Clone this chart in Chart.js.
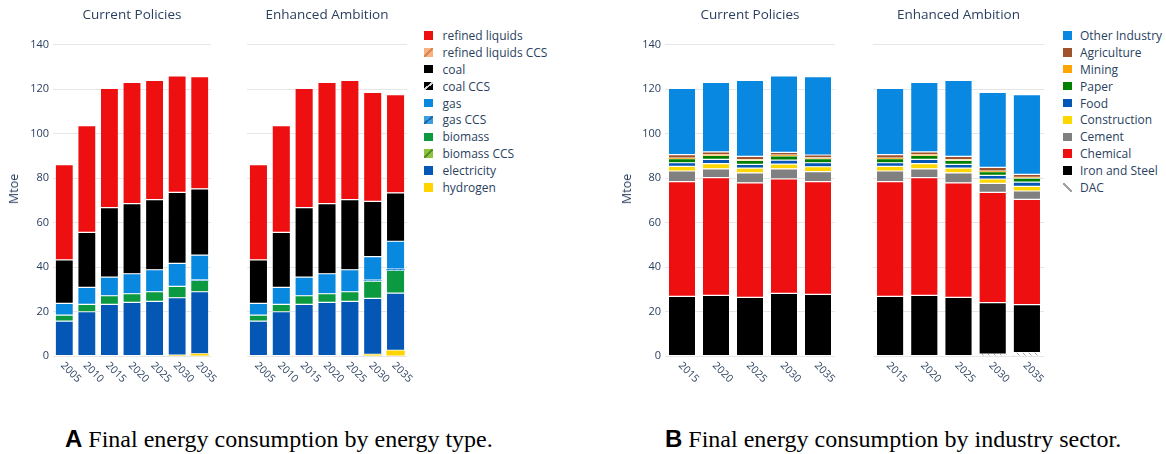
<!DOCTYPE html>
<html lang="en">
<head>
<meta charset="utf-8">
<title>Final energy consumption</title>
<script src="https://cdn.jsdelivr.net/npm/chart.js@4.4.1/dist/chart.umd.min.js"></script>
<style>
  html, body { margin:0; padding:0; background:#fff; }
  body { position:relative; width:1166px; height:454px; overflow:hidden;
         font-family:"Open Sans", sans-serif; color:#2a3f5f; }
  canvas.panel { position:absolute; top:0; }
  .title { position:absolute; top:5px; font-size:13.5px; line-height:18px;
           transform:translateX(-50%); white-space:nowrap; }
  .ytitle { position:absolute; font-size:12.5px; line-height:16px; white-space:nowrap;
            transform:translate(-50%,-50%) rotate(-90deg); }
  .legend { position:absolute; top:27px; font-size:12px; }
  .legend .row { height:16.9px; display:flex; align-items:center; white-space:nowrap; }
  .legend .sw { width:8.5px; height:8.5px; flex:none; }
  .caption { position:absolute; top:425px; font-family:"Liberation Serif", serif;
             font-size:24px; color:#000; white-space:nowrap; }
  .caption b { font-family:"Liberation Sans", sans-serif; font-weight:bold; }
</style>
</head>
<body>

<canvas class="panel" id="typeCP" width="220" height="400" style="left:0px"></canvas>
<canvas class="panel" id="typeEA" width="200" height="400" style="left:220px"></canvas>
<canvas class="panel" id="sectorCP" width="250" height="400" style="left:600px"></canvas>
<canvas class="panel" id="sectorEA" width="210" height="400" style="left:850px"></canvas>

<div class="title" style="left:132px">Current Policies</div>
<div class="title" style="left:327px">Enhanced Ambition</div>
<div class="title" style="left:750px">Current Policies</div>
<div class="title" style="left:958.5px">Enhanced Ambition</div>

<div class="ytitle" style="left:13.5px; top:189px">Mtoe</div>
<div class="ytitle" style="left:627px; top:189px">Mtoe</div>

<div class="legend" id="legendType" style="left:424px"></div>
<div class="legend" id="legendSector" style="left:1063px"></div>

<div class="caption" style="left:65px"><b>A</b> Final energy consumption by energy type.</div>
<div class="caption" style="left:665px"><b>B</b> Final energy consumption by industry sector.</div>

<script>
// ---- categories ----
const years = ['2005', '2010', '2015', '2020', '2025', '2030', '2035'];
const sectorYears = ['2015', '2020', '2025', '2030', '2035'];

// ---- final energy by energy type, Current Policies (Mtoe) ----
const cpHydrogen      = [0, 0, 0, 0, 0, 0.4, 1.0];
const cpElectricity   = [15.7, 19.9, 23.2, 24.1, 24.6, 25.8, 27.9];
const cpBiomassCCS    = [0, 0, 0, 0, 0, 0, 0];
const cpBiomass       = [2.7, 3.3, 3.9, 3.9, 4.3, 5.1, 5.1];
const cpGasCCS        = [0, 0, 0, 0, 0, 0, 0.3];
const cpGas           = [5.3, 7.7, 8.4, 9.0, 9.9, 10.4, 11.1];
const cpCoalCCS       = [0, 0, 0, 0, 0, 0, 0];
const cpCoal          = [19.5, 24.7, 31.2, 31.5, 31.5, 31.9, 29.8];
const cpRefinedCCS    = [0, 0, 0, 0, 0, 0, 0];
const cpRefined       = [42.8, 48.0, 53.7, 54.5, 53.6, 52.4, 50.4];

// ---- final energy by energy type, Enhanced Ambition (Mtoe) ----
const eaHydrogen      = [0, 0, 0, 0, 0, 0.7, 2.5];
const eaElectricity   = [15.7, 19.9, 23.2, 24.1, 24.6, 25.2, 25.8];
const eaBiomassCCS    = [0, 0, 0, 0, 0, 0, 0];
const eaBiomass       = [2.7, 3.3, 3.9, 3.9, 4.3, 7.8, 10.2];
const eaGasCCS        = [0, 0, 0, 0, 0, 0.4, 0.6];
const eaGas           = [5.3, 7.7, 8.4, 9.0, 9.9, 10.6, 12.5];
const eaCoalCCS       = [0, 0, 0, 0, 0, 0, 0];
const eaCoal          = [19.5, 24.7, 31.2, 31.5, 31.5, 24.8, 21.8];
const eaRefinedCCS    = [0, 0, 0, 0, 0, 0, 0];
const eaRefined       = [42.8, 48.0, 53.7, 54.5, 53.6, 49.0, 44.1];

// ---- final energy by industry sector, Current Policies (Mtoe) ----
const cpDAC           = [0, 0, 0, 0, 0];
const cpIronSteel     = [26.8, 27.3, 26.4, 28.2, 27.7];
const cpChemical      = [51.6, 52.9, 51.5, 51.5, 50.7];
const cpCement        = [4.8, 4.0, 4.5, 4.5, 4.5];
const cpConstruction  = [2.1, 2.3, 2.1, 2.1, 2.2];
const cpFood          = [1.6, 1.9, 1.7, 1.8, 1.8];
const cpPaper         = [1.8, 1.8, 1.8, 1.9, 1.9];
const cpMining        = [0.3, 0.3, 0.3, 0.3, 0.3];
const cpAgriculture   = [1.6, 1.3, 1.5, 1.3, 1.3];
const cpOtherIndustry = [29.7, 31.2, 34.1, 34.4, 35.2];

// ---- final energy by industry sector, Enhanced Ambition (Mtoe) ----
const eaDAC           = [0, 0, 0, 0.9, 1.5];
const eaIronSteel     = [26.8, 27.3, 26.4, 23.1, 21.6];
const eaChemical      = [51.6, 52.9, 51.5, 49.6, 47.3];
const eaCement        = [4.8, 4.0, 4.5, 4.0, 3.8];
const eaConstruction  = [2.1, 2.3, 2.1, 2.0, 2.1];
const eaFood          = [1.6, 1.9, 1.7, 1.6, 1.9];
const eaPaper         = [1.8, 1.8, 1.8, 1.7, 1.8];
const eaMining        = [0.3, 0.3, 0.3, 0.3, 0.3];
const eaAgriculture   = [1.6, 1.3, 1.5, 1.6, 1.4];
const eaOtherIndustry = [29.7, 31.2, 34.1, 33.7, 35.8];

// ---- axis ----
const yMax = 140;
const yStep = 20;

// ---- series styles (bottom of stack first) ----
const typeSeries = [
  { label: 'hydrogen',             color: '#ffd400', thin: true },
  { label: 'electricity',          color: '#0457b5' },
  { label: 'biomass CCS',          color: '#8cc63f', hatch: { bg: '#8cc63f', line: '#5b8c27', dir: 1 } },
  { label: 'biomass',              color: '#0b9a40' },
  { label: 'gas CCS',              color: '#3c9ee4', hatch: { bg: '#3c9ee4', line: '#1c6aa8', dir: 1 }, thin: true },
  { label: 'gas',                  color: '#0888de' },
  { label: 'coal CCS',             color: '#000000', hatch: { bg: '#000000', line: '#d0d0d0', dir: 1 } },
  { label: 'coal',                 color: '#000000' },
  { label: 'refined liquids CCS',  color: '#f7b283', hatch: { bg: '#f7b283', line: '#d98550', dir: 1 } },
  { label: 'refined liquids',      color: '#ee1010' }
];
const sectorSeries = [
  { label: 'DAC',            color: '#ffffff', hatch: { bg: '#ffffff', line: '#a0a0a0', dir: -1 }, thin: true },
  { label: 'Iron and Steel', color: '#000000' },
  { label: 'Chemical',       color: '#ee1010' },
  { label: 'Cement',         color: '#808080' },
  { label: 'Construction',   color: '#ffd700' },
  { label: 'Food',           color: '#0457b5' },
  { label: 'Paper',          color: '#008000' },
  { label: 'Mining',         color: '#ffa500', thin: true },
  { label: 'Agriculture',    color: '#a0522d' },
  { label: 'Other Industry', color: '#0888e0' }
];

function hatchPattern(h) {
  const c = document.createElement('canvas');
  c.width = 6; c.height = 6;
  const g = c.getContext('2d');
  g.fillStyle = h.bg; g.fillRect(0, 0, 6, 6);
  g.strokeStyle = h.line; g.lineWidth = 1;
  g.beginPath();
  if (h.dir > 0) { g.moveTo(-1, 7); g.lineTo(7, -1); }
  else { g.moveTo(-1, -1); g.lineTo(7, 7); }
  g.stroke();
  return g.createPattern(c, 'repeat');
}

function buildDatasets(series, values) {
  return series.map((s, i) => ({
    label: s.label,
    data: values[i],
    backgroundColor: s.hatch ? hatchPattern(s.hatch) : s.color,
    borderColor: 'rgba(255,255,255,0.4)',
    borderWidth: s.thin ? 0 : 0.6,
    borderSkipped: false,
    barPercentage: 0.8,
    categoryPercentage: 1.0
  }));
}

// year labels slanted downward to the right under each bar
const slantedYearLabels = {
  id: 'slantedYearLabels',
  afterDraw(chart) {
    const xs = chart.scales.x;
    const ctx = chart.ctx;
    ctx.save();
    ctx.font = '10.5px "Open Sans"';
    ctx.fillStyle = '#2a3f5f';
    ctx.textAlign = 'left';
    ctx.textBaseline = 'middle';
    chart.data.labels.forEach((lab, i) => {
      const x = xs.getPixelForValue(i);
      ctx.save();
      ctx.translate(x - 2, chart.chartArea.bottom + 8);
      ctx.rotate(Math.PI / 4);
      ctx.fillText(lab, 0, 0);
      ctx.restore();
    });
    ctx.restore();
  }
};

function panel(id, labels, datasets, axisWidth, padRight, showTicks) {
  return new Chart(document.getElementById(id), {
    type: 'bar',
    data: { labels, datasets },
    options: {
      responsive: false,
      animation: false,
      devicePixelRatio: 1,
      layout: { padding: { top: 44.7, bottom: 44, left: 0, right: padRight } },
      plugins: { legend: { display: false }, tooltip: { enabled: false } },
      scales: {
        x: { stacked: true, display: false, offset: true },
        y: {
          stacked: true, min: 0, max: yMax,
          ticks: { display: showTicks, stepSize: yStep, padding: 4, color: '#2a3f5f',
                   font: { family: 'Open Sans', size: 11 } },
          grid: { color: '#e6e6e6', lineWidth: 1, drawTicks: false },
          border: { display: false },
          afterFit(scale) { scale.width = axisWidth; }
        }
      }
    },
    plugins: [slantedYearLabels]
  });
}

panel('typeCP', years, buildDatasets(typeSeries,
  [cpHydrogen, cpElectricity, cpBiomassCCS, cpBiomass, cpGasCCS, cpGas, cpCoalCCS, cpCoal, cpRefinedCCS, cpRefined]),
  53, 9, true);
panel('typeEA', years, buildDatasets(typeSeries,
  [eaHydrogen, eaElectricity, eaBiomassCCS, eaBiomass, eaGasCCS, eaGas, eaCoalCCS, eaCoal, eaRefinedCCS, eaRefined]),
  27, 13, false);
panel('sectorCP', sectorYears, buildDatasets(sectorSeries,
  [cpDAC, cpIronSteel, cpChemical, cpCement, cpConstruction, cpFood, cpPaper, cpMining, cpAgriculture, cpOtherIndustry]),
  65, 15, true);
panel('sectorEA', sectorYears, buildDatasets(sectorSeries,
  [eaDAC, eaIronSteel, eaChemical, eaCement, eaConstruction, eaFood, eaPaper, eaMining, eaAgriculture, eaOtherIndustry]),
  23, 16, false);

// legends list the series top of stack first
function swatchCss(s) {
  if (!s.hatch) return 'background:' + s.color;
  const dir = s.hatch.dir > 0 ? 'to bottom right' : 'to top right';
  return 'background:linear-gradient(' + dir + ',' + s.hatch.bg + ' 42%,' + s.hatch.line + ' 42%,' +
         s.hatch.line + ' 58%,' + s.hatch.bg + ' 58%)';
}
function buildLegend(elId, series, gap) {
  const el = document.getElementById(elId);
  series.slice().reverse().forEach(s => {
    const row = document.createElement('div');
    row.className = 'row';
    const sw = document.createElement('span');
    sw.className = 'sw';
    sw.style.cssText = swatchCss(s) + ';margin-right:' + gap + 'px';
    const tx = document.createElement('span');
    tx.textContent = s.label;
    row.appendChild(sw); row.appendChild(tx);
    el.appendChild(row);
  });
}
buildLegend('legendType', typeSeries, 10);
buildLegend('legendSector', sectorSeries, 8.5);
</script>
</body>
</html>
